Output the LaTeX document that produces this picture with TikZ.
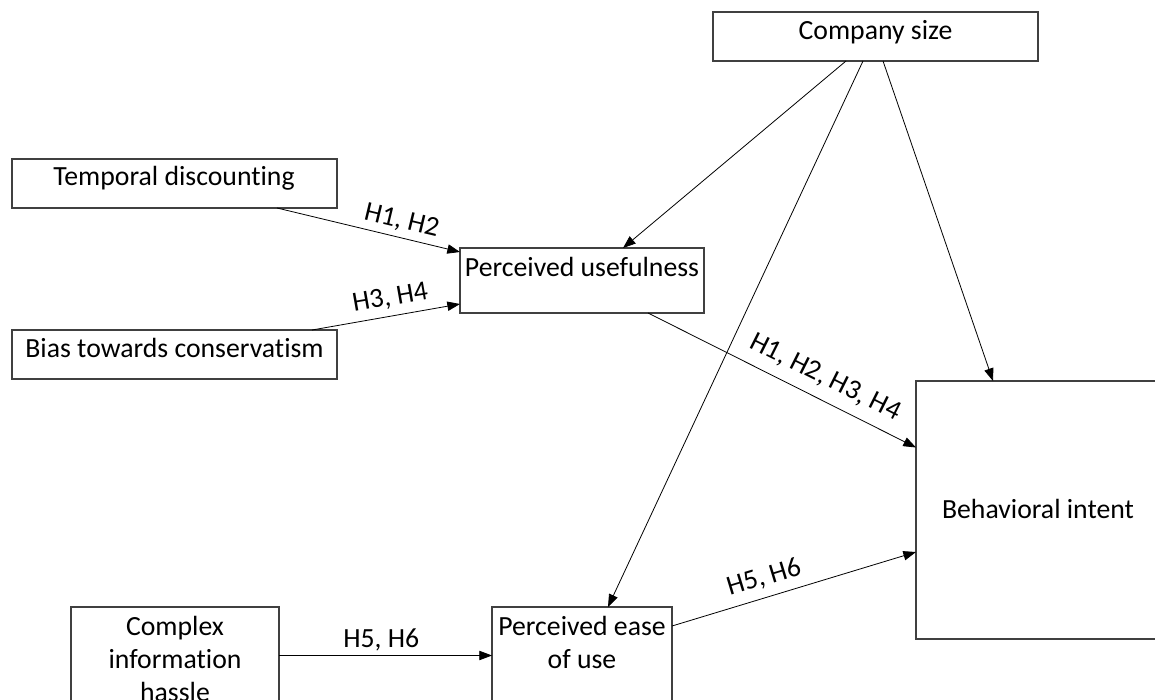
\documentclass[tikz,border=0pt]{standalone}
\usepackage{fontspec}
\setmainfont{Carlito}[Ligatures=NoCommon]
\usetikzlibrary{arrows.meta,calc}
\newcommand\pxu{0.75pt}
\begin{document}
\begin{tikzpicture}[x=0.75pt,y=-0.75pt,
  box/.style={draw=black!75, line width=0.9pt, rectangle, inner sep=0pt, outer sep=0pt},
  txt/.style={font=\fontsize{20.8}{25}\selectfont, inner sep=0pt, anchor=base},
  arr/.style={line width=0.6pt, -{Triangle[length=9.5pt,width=7pt]}},
  hyp/.style={font=\fontsize{20.8}{25}\selectfont, sloped, inner sep=2pt}]
\useasboundingbox (0,0) rectangle (1155,699);
\clip (0,0) rectangle (1155,699);

% boxes
\node[box, minimum width=325*\pxu, minimum height=49*\pxu] (cs)   at (875.5,36.5) {};
\node[box, minimum width=325*\pxu, minimum height=49*\pxu] (td)   at (174.5,183.5) {};
\node[box, minimum width=325*\pxu, minimum height=49*\pxu] (btc)  at (174.5,354.5) {};
\node[box, minimum width=244*\pxu, minimum height=65*\pxu] (pu)   at (582,280.5) {};
\node[box, minimum width=259*\pxu, minimum height=258*\pxu] (bi)  at (1045.5,510) {};
\node[box, minimum width=180*\pxu, minimum height=133*\pxu] (peou) at (582,673.5) {};
\node[box, minimum width=208*\pxu, minimum height=133*\pxu] (ch)  at (175,673.5) {};

% box texts
\node[txt] (cst)  at (875.5,40) {Company size};
\node[txt] (tdt)  at (174,185) {Temporal discounting};
\node[txt] (btct) at (174.5,357) {Bias towards conservatism};
\node[txt] (put)  at (582,276) {Perceived usefulness};
\node[txt] (bit)  at (1038,518) {Behavioral intent};
\node[txt] (pe1)  at (582,635) {Perceived ease};
\node[txt] (pe2)  at (582,668) {of use};
\node[txt] (ch1)  at (175,635) {Complex};
\node[txt] (ch2)  at (175,668) {information};
\node[txt] (ch3)  at (175,701) {hassle};

% connectors
\draw[arr] ($(td.south)+(102.5,0)$) -- ($(pu.west)+(0,-28.5)$)
  node[hyp, pos=0.66, above=2pt] (l1) {H1, H2};
\draw[arr] ($(btc.north)+(137.5,0)$) -- ($(pu.west)+(0,23.5)$)
  node[hyp, pos=0.55, above=3pt] (l2) {H3, H4};
\draw[arr] ($(cs.south)+(-29.5,0)$) -- ($(pu.north)+(41,0)$);
\draw[arr] ($(cs.south)+(-12.5,0)$) -- ($(peou.north)+(26,0)$);
\draw[arr] ($(cs.south)+(7.5,0)$) -- ($(bi.north west)+(77,0)$);
\draw[arr] ($(pu.south)+(66,0)$) -- ($(bi.north west)+(0,66.5)$)
  node[hyp, pos=0.625, above=6pt] (l3) {H1, H2, H3, H4};
\draw[arr] ($(peou.north east)+(0,19)$) -- ($(bi.north west)+(0,171)$)
  node[hyp, pos=0.4, above=4pt] (l4) {H5, H6};
\draw[arr] ($(ch.north east)+(0,48.5)$) -- ($(peou.north west)+(0,48.5)$)
  node[hyp, pos=0.48, above=1pt] (l5) {H5, H6};
\end{tikzpicture}
\end{document}
